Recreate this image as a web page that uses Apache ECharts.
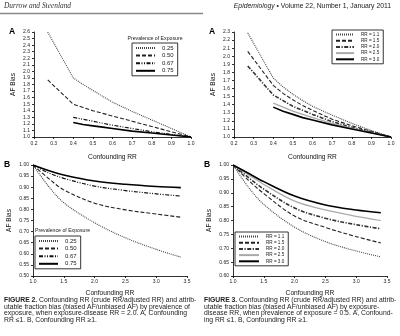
<!DOCTYPE html>
<html>
<head>
<meta charset="utf-8">
<script src="https://cdn.jsdelivr.net/npm/echarts@6/dist/echarts.min.js"></script>
<style>
html,body{margin:0;padding:0;background:#fff;}
#c{width:400px;height:336px;}
</style>
</head>
<body>
<div id="c"></div>
<script>
// ---------- DATA ----------
// Panel A x values (confounding RR <= 1)
const xA = [0.27, 0.4, 0.45, 0.5, 0.55, 0.6, 0.7, 0.8, 0.9, 1.0];
// Panel B x values (confounding RR >= 1)
const xB = [1.0, 1.25, 1.5, 2.0, 2.5, 3.0, 3.4];

// Figure 2: by prevalence of exposure
const prevNames = ['0.25', '0.50', '0.67', '0.75'];
const f2A_p25 = [2.60, 1.90, 1.80, 1.71, 1.62, 1.53, 1.39, 1.26, 1.13, 1.00];
const f2A_p50 = [1.87, 1.50, 1.45, 1.40, 1.36, 1.32, 1.24, 1.16, 1.08, 1.00];
const f2A_p67 = [null, 1.30, 1.27, 1.24, 1.21, 1.18, 1.13, 1.08, 1.04, 1.00];
const f2A_p75 = [null, 1.22, 1.19, 1.17, 1.15, 1.13, 1.09, 1.06, 1.03, 1.00];

const f2B_p25 = [1.00, 0.905, 0.83, 0.74, 0.672, 0.62, 0.585];
const f2B_p50 = [1.00, 0.94, 0.888, 0.828, 0.798, 0.779, 0.765];
const f2B_p67 = [1.00, 0.965, 0.94, 0.905, 0.885, 0.870, 0.860];
const f2B_p75 = [1.00, 0.975, 0.955, 0.928, 0.913, 0.903, 0.898];

// Figure 3: by exposure-disease RR
const rrNames = ['RR = 1.1', 'RR = 1.5', 'RR = 2.0', 'RR = 2.5', 'RR = 3.0'];
const f3A_rr11 = [2.29, 1.73, 1.62, 1.53, 1.45, 1.38, 1.27, 1.17, 1.08, 1.00];
const f3A_rr15 = [2.06, 1.64, 1.54, 1.46, 1.39, 1.33, 1.22, 1.14, 1.07, 1.00];
const f3A_rr20 = [1.88, 1.52, 1.45, 1.38, 1.33, 1.28, 1.19, 1.12, 1.06, 1.00];
const f3A_rr25 = [null, 1.42, 1.37, 1.32, 1.28, 1.24, 1.17, 1.11, 1.05, 1.00];
const f3A_rr30 = [null, 1.37, 1.32, 1.28, 1.24, 1.21, 1.15, 1.10, 1.05, 1.00];

const f3B_rr11 = [1.00, 0.92, 0.858, 0.776, 0.724, 0.69, 0.669];
const f3B_rr15 = [1.00, 0.945, 0.897, 0.816, 0.775, 0.742, 0.719];
const f3B_rr20 = [1.00, 0.955, 0.913, 0.845, 0.808, 0.785, 0.770];
const f3B_rr25 = [1.00, 0.965, 0.93, 0.870, 0.838, 0.815, 0.800];
const f3B_rr30 = [1.00, 0.97, 0.94, 0.888, 0.856, 0.838, 0.828];

// ---------- STYLES ----------
const FONT = 'Liberation Sans, Arial, sans-serif';
const styDot  = {color: '#444', width: 1.1, type: [1, 1]};
const styDash = {color: '#222', width: 1.1, type: [4, 2]};
const styDD   = {color: '#111', width: 1.2, type: [4, 1.5, 1, 1.5, 1, 1.5]};
const stySol  = {color: '#000', width: 1.6, type: 'solid'};
const styGray = {color: '#aaa', width: 1.2, type: 'solid'};
const styDD3  = {color: '#333', width: 1.6, type: [4, 1.5, 1.2, 1.5]};

function pairs(xs, ys) {
  const out = [];
  for (let i = 0; i < xs.length; i++) if (ys[i] !== null) out.push([xs[i], ys[i]]);
  return out;
}
function mkSeries(name, gi, xs, ys, ls, smooth) {
  return {
    type: 'line', name: name, xAxisIndex: gi, yAxisIndex: gi,
    data: pairs(xs, ys), symbol: 'none', smooth: smooth ? 0.35 : false,
    lineStyle: ls, itemStyle: {color: ls.color}, animation: false, silent: true
  };
}

function xAx(gi, min, max, interval, dec, nameGap, margin) {
  return {
    type: 'value', gridIndex: gi, min: min, max: max, interval: interval,
    axisLine: {onZero: false, lineStyle: {color: '#000', width: 0.8}},
    axisTick: {show: true, length: 2, lineStyle: {color: '#000', width: 0.8}},
    splitLine: {show: false},
    axisLabel: {fontSize: 5, color: '#222', margin: margin, fontFamily: FONT,
      formatter: v => v.toFixed(dec)},
    name: 'Confounding RR', nameLocation: 'middle', nameGap: nameGap,
    nameTextStyle: {fontSize: 6.6, color: '#111', fontFamily: FONT}
  };
}
function yAx(gi, min, max, interval, dec, nameGap) {
  return {
    type: 'value', gridIndex: gi, min: min, max: max, interval: interval,
    axisLine: {show: true, onZero: false, lineStyle: {color: '#000', width: 0.8}},
    axisTick: {show: true, length: 2, lineStyle: {color: '#000', width: 0.8}},
    splitLine: {show: false},
    axisLabel: {fontSize: 5, color: '#222', margin: 4, fontFamily: FONT,
      formatter: v => v.toFixed(dec)},
    name: 'AF Bias', nameLocation: 'middle', nameGap: nameGap, nameRotate: 90,
    nameTextStyle: {fontSize: 6.5, color: '#111', fontFamily: FONT}
  };
}

const series = [
  mkSeries(prevNames[0], 0, xA, f2A_p25, styDot, false),
  mkSeries(prevNames[1], 0, xA, f2A_p50, styDash, false),
  mkSeries(prevNames[2], 0, xA, f2A_p67, styDD, false),
  mkSeries(prevNames[3], 0, xA, f2A_p75, stySol, false),
  mkSeries(prevNames[0], 1, xB, f2B_p25, styDot, true),
  mkSeries(prevNames[1], 1, xB, f2B_p50, styDash, true),
  mkSeries(prevNames[2], 1, xB, f2B_p67, styDD, true),
  mkSeries(prevNames[3], 1, xB, f2B_p75, stySol, true),
  mkSeries(rrNames[0], 2, xA, f3A_rr11, styDot, false),
  mkSeries(rrNames[1], 2, xA, f3A_rr15, styDash, false),
  mkSeries(rrNames[2], 2, xA, f3A_rr20, styDD3, false),
  mkSeries(rrNames[3], 2, xA, f3A_rr25, styGray, false),
  mkSeries(rrNames[4], 2, xA, f3A_rr30, stySol, false),
  mkSeries(rrNames[0], 3, xB, f3B_rr11, styDot, true),
  mkSeries(rrNames[1], 3, xB, f3B_rr15, styDash, true),
  mkSeries(rrNames[2], 3, xB, f3B_rr20, styDD3, true),
  mkSeries(rrNames[3], 3, xB, f3B_rr25, styGray, true),
  mkSeries(rrNames[4], 3, xB, f3B_rr30, stySol, true)
];

function leg(names, left, top, fs, itemW, gap, lh) {
  return {
    data: names, orient: 'vertical', left: left, top: top, selectedMode: false,
    borderColor: '#000', borderWidth: 0.8, padding: [2, 4, 2, 3],
    itemGap: gap, itemWidth: itemW, itemHeight: 4,
    itemStyle: {opacity: 0, borderWidth: 0},
    textStyle: {fontSize: fs, color: '#222', fontFamily: FONT, lineHeight: lh, padding: [0, 0, 0, 2]},
    backgroundColor: '#fff'
  };
}

function caption(lines, x, y0, dy) {
  return lines.map((l, i) => ({
    type: 'text', x: x, y: y0 + i * dy, silent: true,
    style: {text: l, fontSize: 6.8, fontFamily: FONT, fill: '#222',
      textAlign: 'left', textVerticalAlign: 'middle',
      rich: {b: {fontWeight: 'bold', fontSize: 6.8, fontFamily: FONT, fill: '#222'}}}
  }));
}

const cap2 = [
  '{b|FIGURE 2.} Confounding RR (crude RR/adjusted RR) and attrib-',
  'utable fraction bias (biased AF/unbiased AF) by prevalence of',
  'exposure, when exposure-disease RR = 2.0. A, Confounding',
  'RR \u22641. B, Confounding RR \u22651.'
];
const cap3 = [
  '{b|FIGURE 3.} Confounding RR (crude RR/adjusted RR) and attrib-',
  'utable fraction bias (biased AF/unbiased AF) by exposure-',
  'disease RR, when prevalence of exposure = 0.5. A, Confound-',
  'ing RR \u22641. B, Confounding RR \u22651.'
];

const graphics = [
  {type: 'line', shape: {x1: 0, y1: 13.5, x2: 203, y2: 13.5}, style: {stroke: '#888', lineWidth: 1.5}, silent: true},
  {type: 'text', x: 4, y: 6, silent: true, style: {text: 'Durrow and Steenland', fontSize: 7.4,
    fontFamily: 'Liberation Serif, Times New Roman, serif', fontStyle: 'italic', fill: '#333', textVerticalAlign: 'middle'}},
  {type: 'text', x: 391, y: 6, silent: true, style: {
    text: '{i|Epidemiology} \u2022 Volume 22, Number 1, January 2011',
    fontSize: 6.8, fontFamily: FONT, fill: '#222', textAlign: 'right', textVerticalAlign: 'middle',
    rich: {i: {fontStyle: 'italic', fontSize: 6.8, fontFamily: FONT, fill: '#222'}}}},
  {type: 'text', x: 12, y: 32, silent: true, style: {text: 'A', fontSize: 8.5, fontWeight: 'bold', fontFamily: FONT, fill: '#000', textAlign: 'center', textVerticalAlign: 'middle'}},
  {type: 'text', x: 7, y: 165, silent: true, style: {text: 'B', fontSize: 8.5, fontWeight: 'bold', fontFamily: FONT, fill: '#000', textAlign: 'center', textVerticalAlign: 'middle'}},
  {type: 'text', x: 212, y: 32, silent: true, style: {text: 'A', fontSize: 8.5, fontWeight: 'bold', fontFamily: FONT, fill: '#000', textAlign: 'center', textVerticalAlign: 'middle'}},
  {type: 'text', x: 207, y: 165, silent: true, style: {text: 'B', fontSize: 8.5, fontWeight: 'bold', fontFamily: FONT, fill: '#000', textAlign: 'center', textVerticalAlign: 'middle'}},
  {type: 'text', x: 155, y: 39, silent: true, style: {text: 'Prevalence of Exposure', fontSize: 5.2, fontFamily: FONT, fill: '#222', textAlign: 'center', textVerticalAlign: 'middle'}},
  {type: 'text', x: 35, y: 231, silent: true, style: {text: 'Prevalence of Exposure', fontSize: 5.2, fontFamily: FONT, fill: '#222', textAlign: 'left', textVerticalAlign: 'middle'}}
].concat(caption(cap2, 4, 300, 6.8), caption(cap3, 204, 300, 6.8));

const option = {
  backgroundColor: '#fff',
  animation: false,
  grid: [
    {left: 34, top: 32, width: 157, height: 105},
    {left: 33, top: 165, width: 154, height: 111},
    {left: 234, top: 32, width: 157, height: 105},
    {left: 233, top: 165, width: 154, height: 111}
  ],
  xAxis: [
    xAx(0, 0.2, 1.0, 0.1, 1, 17, 4),
    xAx(1, 1.0, 3.5, 0.5, 1, 14, 3),
    xAx(2, 0.2, 1.0, 0.1, 1, 17, 4),
    xAx(3, 1.0, 3.5, 0.5, 1, 14, 3)
  ],
  yAxis: [
    yAx(0, 1.0, 2.6, 0.1, 1, 17),
    yAx(1, 0.5, 1.0, 0.05, 2, 20),
    yAx(2, 1.0, 2.3, 0.1, 1, 17),
    yAx(3, 0.6, 1.0, 0.05, 2, 20)
  ],
  legend: [
    leg(prevNames, 132, 43, 6, 19, 1.6, 5),
    leg(prevNames, 35, 236, 6, 19, 1.6, 5),
    leg(rrNames, 332, 30, 4.6, 18, 1.2, 5),
    leg(rrNames, 235, 232, 4.6, 20, 1.2, 5)
  ],
  series: series,
  graphic: graphics
};

const chart = echarts.init(document.getElementById('c'), null, {renderer: 'canvas'});
chart.setOption(option);
</script>
</body>
</html>
